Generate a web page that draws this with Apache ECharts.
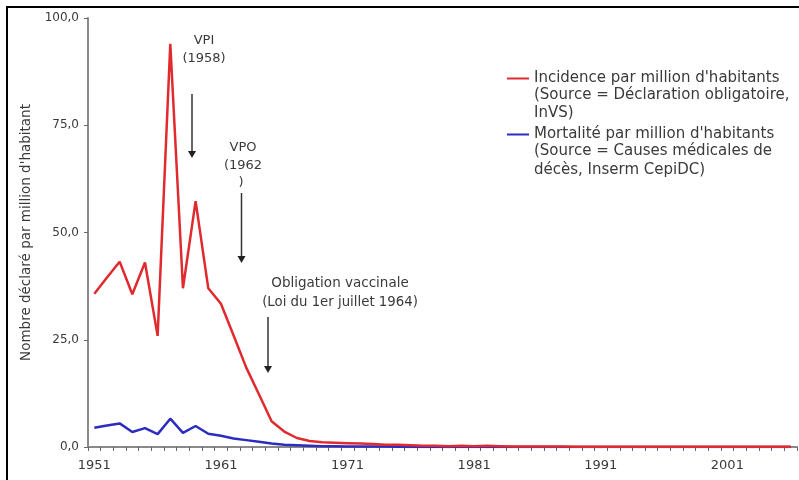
<!DOCTYPE html>
<html>
<head>
<meta charset="utf-8">
<script src="https://cdn.jsdelivr.net/npm/echarts@6/dist/echarts.min.js"></script>
<style>
html,body{margin:0;padding:0;background:#fff;}
#chart{width:799px;height:480px;}
</style>
</head>
<body>
<div id="chart"></div>
<script>
var years = ['1951','1952','1953','1954','1955','1956','1957','1958','1959','1960',
  '1961','1962','1963','1964','1965','1966','1967','1968','1969','1970',
  '1971','1972','1973','1974','1975','1976','1977','1978','1979','1980',
  '1981','1982','1983','1984','1985','1986','1987','1988','1989','1990',
  '1991','1992','1993','1994','1995','1996','1997','1998','1999','2000',
  '2001','2002','2003','2004','2005','2006'];

var incidence = [35.7, 39.5, 43.2, 35.6, 43.0, 25.9, 94.0, 37.0, 57.3, 37.0,
  33.4, 26.0, 18.5, 12.3, 6.0, 3.6, 2.1, 1.4, 1.1, 1.0,
  0.9, 0.8, 0.7, 0.5, 0.5, 0.4, 0.3, 0.3, 0.2, 0.3,
  0.2, 0.3, 0.2, 0.1, 0.1, 0.1, 0.1, 0.1, 0.05, 0.05,
  0.05, 0.05, 0.05, 0.05, 0.05, 0.05, 0.05, 0.05, 0.05, 0.05,
  0.05, 0.05, 0.05, 0.05, 0.05, 0.05];

var mortalite = [4.5, 5.0, 5.5, 3.5, 4.4, 3.0, 6.6, 3.3, 4.9, 3.1,
  2.6, 2.0, 1.6, 1.2, 0.8, 0.5, 0.4, 0.3, 0.2, 0.2,
  0.1, 0.1, 0.1, 0.1, 0.05, 0, 0, 0, 0, 0,
  0, 0, 0, 0, 0, 0, 0, 0, 0, 0,
  0, 0, 0, 0, 0, 0, 0, 0, 0, 0,
  0, 0, 0, 0, 0, 0];

var seriesNames = ["Incidence par million d'habitants", "Mortalité par million d'habitants"];
var legendSub1 = ["(Source = Déclaration obligatoire,", "InVS)"];
var legendSub2 = ["(Source = Causes médicales de", "décès, Inserm CepiDC)"];
var yTitle = "Nombre déclaré par million d'habitant";

var FONT = '"DejaVu Sans", Verdana, sans-serif';
var TXT = '#3a3a3a';
var AX = '#8a8a8a';
var LEG = 15;

var chart = echarts.init(document.getElementById('chart'), null, {renderer:'canvas'});

function txt(x, y, s, align, size) {
  return {type:'text', x:x, y:y, silent:true, style:{text:s, fill:TXT, font:(size||13) + 'px ' + FONT, align:align||'center', verticalAlign:'middle'}};
}
function arrow(x, y1, y2) {
  return {type:'group', silent:true, children:[
    {type:'line', shape:{x1:x, y1:y1, x2:x, y2:y2-5}, style:{stroke:'#333', lineWidth:1.5}},
    {type:'polygon', shape:{points:[[x-4,y2-7],[x+4,y2-7],[x,y2]]}, style:{fill:'#222'}}
  ]};
}

var option = {
  backgroundColor:'#fff',
  animation:false,
  textStyle:{fontFamily:FONT},
  grid:{left:88, right:2, top:18, bottom:33, containLabel:false},
  legend:{
    orient:'vertical', left:507, top:71, itemGap:41, padding:0,
    icon:'rect', itemWidth:22, itemHeight:2,
    textStyle:{fontSize:LEG, color:TXT, fontFamily:FONT},
    data:seriesNames
  },
  xAxis:{
    type:'category', data:years, boundaryGap:true,
    axisLine:{lineStyle:{color:AX, width:2}},
    axisTick:{show:true, interval:0, length:4, lineStyle:{color:'#666'}},
    axisLabel:{interval:9, fontSize:13, color:TXT, margin:12, fontFamily:FONT}
  },
  yAxis:{
    type:'value', min:0, max:100, interval:25,
    name:yTitle, nameLocation:'middle', nameGap:51, nameRotate:90,
    nameTextStyle:{fontSize:13.5, color:TXT, fontFamily:FONT},
    axisLine:{show:true, lineStyle:{color:AX, width:2}},
    axisTick:{show:true, length:4, lineStyle:{color:'#666'}},
    splitLine:{show:false},
    axisLabel:{fontSize:12, color:TXT, margin:9, fontFamily:FONT,
      formatter:function(v){return v.toFixed(1).replace('.', ',');}}
  },
  series:[
    {name:seriesNames[0], type:'line', data:incidence, symbol:'none',
     lineStyle:{color:'#e02a2e', width:2.5}, itemStyle:{color:'#e02a2e'}, z:3},
    {name:seriesNames[1], type:'line', data:mortalite, symbol:'none',
     lineStyle:{color:'#2c2cc0', width:2.5}, itemStyle:{color:'#2c2cc0'}, z:2}
  ],
  graphic:[
    {type:'rect', silent:true, z:100, shape:{x:7, y:7, width:1200, height:1200}, style:{fill:'none', stroke:'#000', lineWidth:2}},
    txt(534, 95, legendSub1[0], 'left', LEG),
    txt(534, 113, legendSub1[1], 'left', LEG),
    txt(534, 151, legendSub2[0], 'left', LEG),
    txt(534, 170, legendSub2[1], 'left', LEG),
    txt(204, 41, 'VPI'),
    txt(204, 59, '(1958)'),
    arrow(192, 94, 158),
    txt(243, 148, 'VPO'),
    txt(243, 166, '(1962'),
    txt(241, 183, ')'),
    arrow(241.5, 193, 263),
    txt(340, 283, 'Obligation vaccinale', 'center', 13.5),
    txt(340, 303, '(Loi du 1er juillet 1964)', 'center', 13.3),
    arrow(268, 317, 373)
  ]
};
chart.setOption(option);
</script>
</body>
</html>
